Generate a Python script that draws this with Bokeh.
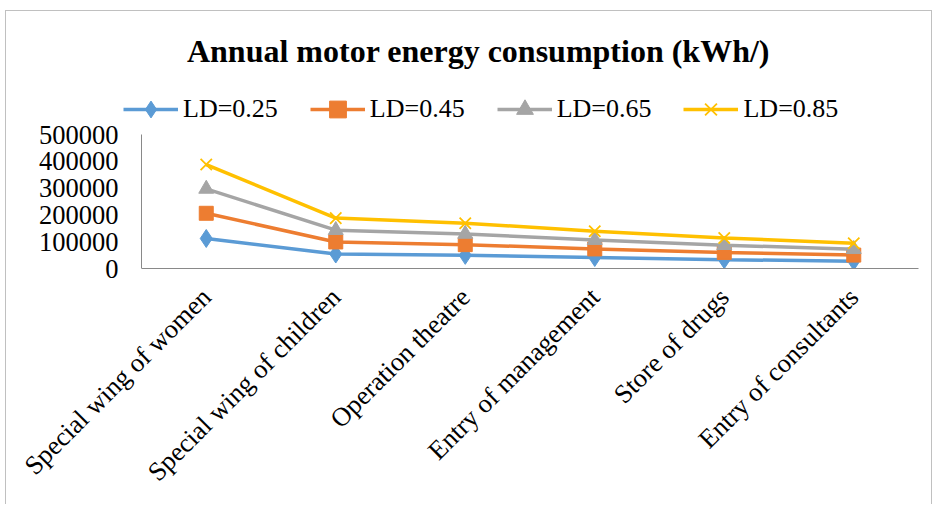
import math
from bokeh.plotting import figure
from bokeh.models import Range1d, FixedTicker, Legend, LegendItem, Label
from bokeh.embed import file_html
from bokeh.resources import INLINE

categories = ["Special wing of women", "Special wing of children", "Operation theatre",
              "Entry of management", "Store of drugs", "Entry of consultants"]
ld_025 = [112000, 54000, 49000, 41000, 33000, 27000]
ld_045 = [206000, 99000, 89000, 73000, 60000, 50000]
ld_065 = [297000, 143000, 129000, 106000, 87000, 72000]
ld_085 = [388000, 188000, 169000, 139000, 114000, 94000]
series_names = ["LD=0.25", "LD=0.45", "LD=0.65", "LD=0.85"]
y_ticks = [0, 100000, 200000, 300000, 400000, 500000]
y_tick_labels = ["0", "100000", "200000", "300000", "400000", "500000"]
title_text = "Annual motor energy consumption (kWh/)"

SERIF = "Liberation Serif"

# category positions on a numeric axis (centre of each category slot)
xpos = [i + 0.5 for i in range(len(categories))]

# layout (pixels)
BORDER_L, BORDER_T, BORDER_R, BORDER_B = 116, 4, 13, 236
FRAME_W, FRAME_H = 796, 253
AXIS_PX = 134            # pixel height of the y axis (0 .. top tick)
SLOT_PX = 129.5          # pixel width of one category slot
AXIS_X = 19              # y axis line offset from the frame's left edge

x_start = -AXIS_X / SLOT_PX
x_end = x_start + FRAME_W / SLOT_PX
y_end = y_ticks[-1] * FRAME_H / AXIS_PX

p = figure(x_range=Range1d(x_start, x_end), y_range=Range1d(0, y_end),
           frame_width=FRAME_W, frame_height=FRAME_H, title_location=None,
           min_border_left=BORDER_L, min_border_right=BORDER_R,
           min_border_top=BORDER_T, min_border_bottom=BORDER_B,
           output_backend="svg", toolbar_location=None)
p.styles = {"margin-left": "5px", "margin-top": "10px",
            "border-top": "1px solid #c0c0c0", "border-left": "1px solid #c0c0c0",
            "border-right": "1px solid #c0c0c0"}
p.outline_line_color = None
p.xgrid.visible = False
p.ygrid.visible = False
p.background_fill_color = "white"
p.border_fill_color = "white"

# y axis (labels from the axis; its line drawn at the first category slot edge)
p.yaxis.ticker = FixedTicker(ticks=y_ticks)
p.yaxis.major_label_overrides = {t: l for t, l in zip(y_ticks, y_tick_labels)}
p.yaxis.major_tick_line_color = None
p.yaxis.minor_tick_line_color = None
p.yaxis.major_tick_out = 0
p.yaxis.major_tick_in = 0
p.yaxis.axis_line_color = None
p.yaxis.major_label_text_font = SERIF
p.yaxis.major_label_text_font_size = "26.5px"
p.yaxis.major_label_text_color = "black"
p.yaxis.major_label_standoff = 4
p.segment(x0=[0], y0=[y_ticks[0]], x1=[0], y1=[y_ticks[-1]], line_color="#898989", line_width=1)

# x axis
p.xaxis.bounds = (0, len(categories))
p.xaxis.ticker = FixedTicker(ticks=xpos)
p.xaxis.major_label_overrides = {x: c for x, c in zip(xpos, categories)}
p.xaxis.major_tick_line_color = None
p.xaxis.minor_tick_line_color = None
p.xaxis.major_tick_out = 0
p.xaxis.major_tick_in = 0
p.xaxis.axis_line_color = "#898989"
p.xaxis.major_label_orientation = math.pi / 4
p.xaxis.major_label_text_font = SERIF
p.xaxis.major_label_text_font_size = "26.5px"
p.xaxis.major_label_text_color = "black"
p.xaxis.major_label_standoff = 24

colors = ["#5B9BD5", "#ED7D31", "#A5A5A5", "#FFC000"]
markers = ["diamond", "square", "triangle", "x"]
sizes = [18, 14, 15, 16]
all_series = [ld_025, ld_045, ld_065, ld_085]

items = []
for name, vals, col, mk, sz in zip(series_names, all_series, colors, markers, sizes):
    ln = p.line(xpos, vals, line_color=col, line_width=3.5)
    if mk == "x":
        sc = p.scatter(xpos, vals, marker=mk, size=sz, line_color=col, line_width=1.8)
    else:
        sc = p.scatter(xpos, vals, marker=mk, size=sz, fill_color=col, line_color=col)
    items.append(LegendItem(label=name, renderers=[ln, sc]))

legend = Legend(items=items, location=(1, 138), orientation="horizontal",
                glyph_width=55, glyph_height=42, label_standoff=5, spacing=32,
                padding=0, margin=0, border_line_color=None, background_fill_alpha=0,
                label_text_font=SERIF, label_text_font_size="26px", label_text_color="black")
p.add_layout(legend)

title = Label(x=356, y=218, x_units="screen", y_units="screen", text=title_text,
              text_align="center", text_baseline="alphabetic",
              text_font=SERIF, text_font_size="32px", text_font_style="bold", text_color="black")
p.add_layout(title)

open("out.html", "w").write(file_html(p, INLINE))
